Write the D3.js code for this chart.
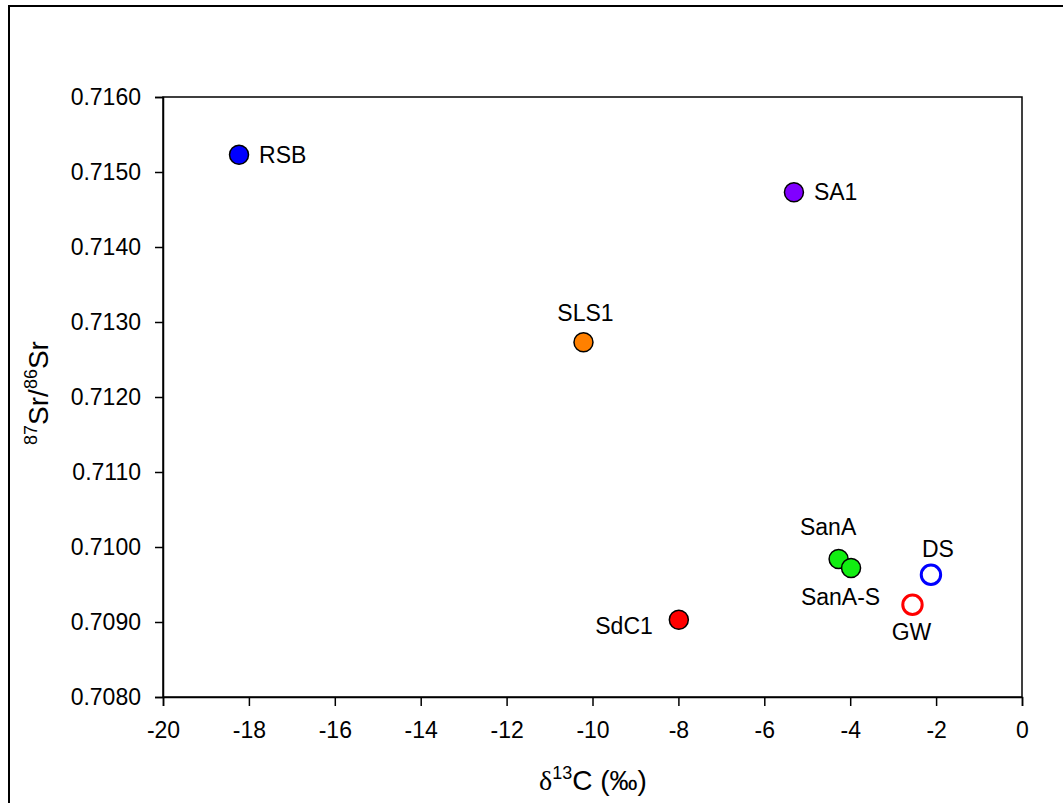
<!DOCTYPE html>
<html><head><meta charset="utf-8">
<script src="https://cdn.jsdelivr.net/npm/d3@7"></script>
<style>body{margin:0;background:#fff}svg{display:block}text{font-family:"Liberation Sans",Arial,sans-serif}</style>
</head><body>
<script>
const names = ["RSB","SA1","SLS1","SanA","SanA-S","DS","GW","SdC1"];
const d13C = [-18.23,-5.31,-10.21,-4.27,-3.98,-2.12,-2.55,-7.99];
const srRatio = [0.71523,0.71473,0.71273,0.70984,0.70972,0.70963,0.70923,0.70903];
const fills = ["#0000ff","#8000ff","#ff8000","#11ee11","#11ee11","none","none","#ff0000"];
const strokes = ["#000","#000","#000","#000","#000","#0000ff","#ff0000","#000"];
const labelPos = ["right","right","above","aboveleft","belowleft","aboveright","below","left"];
const xTicks = [-20,-18,-16,-14,-12,-10,-8,-6,-4,-2,0];
const yTicks = [0.708,0.709,0.710,0.711,0.712,0.713,0.714,0.715,0.716];

const W=1063,H=803;
const svg=d3.select("body").append("svg").attr("width",W).attr("height",H);
svg.append("rect").attr("x",9).attr("y",6).attr("width",1060).attr("height",810).attr("fill","none").attr("stroke","#000").attr("stroke-width",2);
const L=163,R=1022,T=97,B=697;
const x=d3.scaleLinear().domain([-20,0]).range([L,R]);
const y=d3.scaleLinear().domain([0.708,0.716]).range([B,T]);
svg.append("rect").attr("x",L).attr("y",T).attr("width",R-L).attr("height",B-T).attr("fill","none").attr("stroke","#000").attr("stroke-width",1.5);
const xa=svg.append("g").attr("transform",`translate(0,${B})`).call(d3.axisBottom(x).tickValues(xTicks).tickSize(9).tickPadding(16).tickFormat(d=>String(d)));
const ya=svg.append("g").attr("transform",`translate(${L},0)`).call(d3.axisLeft(y).tickValues(yTicks).tickSize(8).tickPadding(14).tickFormat(d=>d.toFixed(4)));
[xa,ya].forEach(g=>{g.attr("font-size",null).attr("font-family",null);
 g.select(".domain").attr("stroke","#000").attr("stroke-width",1.5);
 g.selectAll(".tick line").attr("stroke","#000").attr("stroke-width",1.5);
 g.selectAll("text").style("font-size","23px").attr("fill","#000").style("font-family","'Liberation Sans', Arial, sans-serif");});
// axis titles
const xt=svg.append("text").attr("x",593).attr("y",790).attr("text-anchor","middle").style("font-size","28px");
xt.append("tspan").style("font-family","'Liberation Serif', serif").text("δ");
xt.append("tspan").style("font-size","18px").attr("dy",-11).text("13");
xt.append("tspan").attr("dy",11).text("C (‰)");
const yt=svg.append("text").attr("transform","translate(48,393) rotate(-90)").attr("text-anchor","middle").style("font-size","28px");
yt.append("tspan").style("font-size","18px").attr("dy",-11).text("87");
yt.append("tspan").attr("dy",11).text("Sr/");
yt.append("tspan").style("font-size","18px").attr("dy",-11).text("86");
yt.append("tspan").attr("dy",11).text("Sr");
// points
const data=names.map((n,i)=>({n,x:d13C[i],y:srRatio[i],f:fills[i],s:strokes[i],p:labelPos[i]}));
svg.selectAll("circle.pt").data(data).join("circle").attr("class","pt")
 .attr("cx",d=>x(d.x)).attr("cy",d=>y(d.y)).attr("r",d=>d.f==="none"?9.7:9.5)
 .attr("fill",d=>d.f==="none"?"#fff":d.f).attr("stroke",d=>d.s).attr("stroke-width",d=>d.f==="none"?3:1.5);
const off={right:[20,8,"start"],left:[-26,14,"end"],above:[2,-21,"middle"],belowleft:[-10.5,37,"middle"],aboveleft:[-10.5,-24,"middle"],aboveright:[7,-18,"middle"],below:[-1,35,"middle"]};
svg.selectAll("text.lab").data(data).join("text").attr("class","lab")
 .attr("x",d=>x(d.x)+off[d.p][0]).attr("y",d=>y(d.y)+off[d.p][1]).attr("text-anchor",d=>off[d.p][2])
 .style("font-size","23px").text(d=>d.n);
</script>
</body></html>
